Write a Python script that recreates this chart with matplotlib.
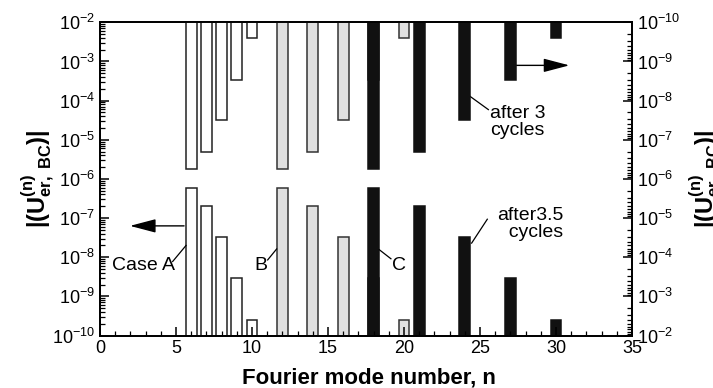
import matplotlib
matplotlib.use("Agg")
import matplotlib.pyplot as plt
import numpy as np
from matplotlib.ticker import LogLocator, MultipleLocator, NullFormatter

plt.rcParams['font.family'] = ['Liberation Sans', 'DejaVu Sans']
plt.rcParams['mathtext.fontset'] = 'custom'
plt.rcParams['mathtext.rm'] = 'Liberation Sans'
plt.rcParams['mathtext.bf'] = 'Liberation Sans:bold'
plt.rcParams['mathtext.it'] = 'Liberation Sans:italic'
plt.rcParams['mathtext.default'] = 'regular'

# Data
modes_A = [6, 7, 8, 9, 10]
modes_B = [12, 14, 16, 18, 20]
modes_C = [18, 21, 24, 27, 30]
amplitudes = [5.75e-7, 2.0e-7, 3.2e-8, 3.0e-9, 2.5e-10]
x_ticks = [0, 5, 10, 15, 20, 25, 30, 35]

BASE = 1e-10
W = 0.72

fig = plt.figure(figsize=(7.13, 3.88), dpi=100)
ax = fig.add_axes([100/713, 1-335.5/388, 532/713, 313.2/388])
ax2 = ax.twinx()

styles = [(modes_A, 'white', '#222222'), (modes_B, '#e0e0e0', '#333333'), (modes_C, '#111111', '#111111')]
for a in (ax, ax2):
    a.set_yscale('log')
    for modes, fc, ec in styles:
        a.bar(modes, [v - BASE for v in amplitudes], bottom=BASE, width=W,
              facecolor=fc, edgecolor=ec, linewidth=1.1)

ax.set_xlim(0, 35)
ax.set_ylim(1e-10, 1e-2)
ax2.set_ylim(1e-2, 1e-10)

ax.xaxis.set_minor_locator(MultipleLocator(1))
ax.set_xticks(x_ticks)
for a in (ax, ax2):
    a.yaxis.set_major_locator(LogLocator(base=10, numticks=20))
    a.yaxis.set_minor_locator(LogLocator(base=10, subs=np.arange(2, 10), numticks=20))
    a.yaxis.set_minor_formatter(NullFormatter())
    for s in a.spines.values():
        s.set_linewidth(1.3)

ax.tick_params(axis='both', which='major', direction='in', length=6.5, width=1.1, labelsize=13, top=False, right=False)
ax.tick_params(axis='both', which='minor', direction='in', length=3.6, width=0.9, top=False, right=False)
ax2.tick_params(axis='y', which='major', direction='in', length=6.5, width=1.1, labelsize=13)
ax2.tick_params(axis='y', which='minor', direction='in', length=3.6, width=0.9)

fig.text(369/713, 1-383.5/388, 'Fourier mode number, n', ha='center', va='baseline',
         fontsize=16, fontweight='bold')
lab = r'$\mathbf{|(U^{(n)}_{er,\ BC})|}$'
fig.text(38.5/713, 1-178.5/388, lab, rotation=90, ha='center', va='center', fontsize=17)
fig.text(706.5/713, 1-178.5/388, lab, rotation=90, ha='center', va='center', fontsize=17)

def L(v):
    return 10.0**v

lw = 0.9
# Case A
ax.text(2.86, L(-8.22), 'Case A', ha='center', va='center', fontsize=14)
ax.plot([4.78, 5.66], [L(-8.11), L(-7.70)], color='black', lw=lw)
ax.annotate('', xy=(1.97, L(-7.20)), xytext=(5.53, L(-7.20)),
            arrowprops=dict(arrowstyle='-|>,head_length=1.6,head_width=0.42', mutation_scale=10,
                            color='black', lw=1.0, shrinkA=0, shrinkB=0))
# B
ax.text(10.56, L(-8.22), 'B', ha='center', va='center', fontsize=14)
ax.plot([11.03, 11.62], [L(-8.07), L(-7.79)], color='black', lw=lw)
# C
ax.text(19.64, L(-8.22), 'C', ha='center', va='center', fontsize=14)
ax.plot([19.14, 18.38], [L(-8.04), L(-7.81)], color='black', lw=lw)
# after 3.5 cycles
ax.text(28.3, L(-7.15), 'after3.5\n  cycles', ha='center', va='center', fontsize=14, linespacing=1.05)
ax.plot([24.45, 25.48], [L(-7.64), L(-7.03)], color='black', lw=lw)
# after 3 cycles
ax.text(25.66, L(-4.55), 'after 3\ncycles', ha='left', va='center', fontsize=14, linespacing=1.05)
ax.plot([24.34, 25.55], [L(-3.89), L(-4.23)], color='black', lw=lw)
ax.annotate('', xy=(30.88, L(-3.10)), xytext=(27.35, L(-3.10)),
            arrowprops=dict(arrowstyle='-|>,head_length=1.6,head_width=0.42', mutation_scale=10,
                            color='black', lw=1.0, shrinkA=0, shrinkB=0))

fig.savefig('out.png', dpi=100)
